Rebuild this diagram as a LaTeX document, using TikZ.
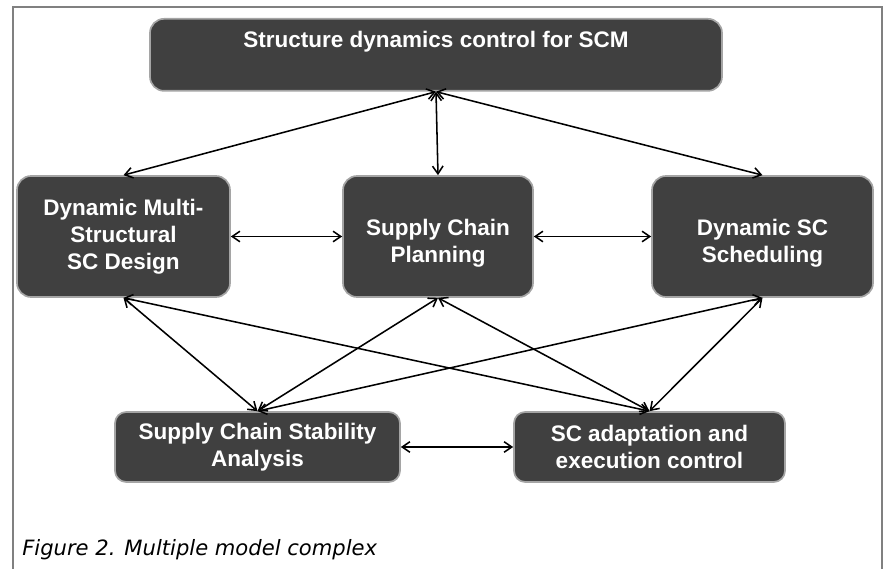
\documentclass[tikz,border=0pt]{standalone}
\usepackage{fontspec}
\setmainfont{Liberation Sans}
\newfontfamily\capfont{DejaVu Sans}
\usetikzlibrary{arrows.meta}
\definecolor{boxgray}{RGB}{64,64,64}
\definecolor{rimgray}{RGB}{165,165,165}
\definecolor{framegray}{RGB}{128,128,128}
\def\px{0.025cm}

\begin{document}
\begin{tikzpicture}[x=\px, y=-\px,
    block/.style={fill=boxgray, draw=rimgray, line width=1.2pt, rounded corners=10pt,
      text=white, font=\bfseries\fontsize{16}{19.2}\selectfont, align=center, inner sep=0pt},
    link/.style={{Straight Barb[length=5.5pt,width=7.5pt]}-{Straight Barb[length=5.5pt,width=7.5pt]},
      line width=1.1pt}]
    \useasboundingbox (0,0) rectangle (884,569);
    % open frame round the figure
    \draw[framegray, line width=0.8pt] (13,569) -- (13,7) -- (882,7) -- (882,569);
    % the six models
    \node[block, anchor=north, minimum width=572*\px, text height=29*\px, text depth=43*\px]
      (ctrl) at (436,18) {Structure dynamics control for SCM};
    \node[block, minimum width=213*\px, minimum height=121*\px] (design) at (123.5,236.5)
      {Dynamic Multi-\\Structural\\SC Design};
    \node[block, minimum width=190*\px, minimum height=121*\px, text height=57*\px, text depth=5*\px]
      (plan) at (438,236.5) {Supply Chain\\Planning};
    \node[block, minimum width=221*\px, minimum height=121*\px, text height=57*\px, text depth=5*\px]
      (sched) at (762.5,236.5) {Dynamic SC\\Scheduling};
    \node[block, rounded corners=8pt, minimum width=285*\px, minimum height=70*\px]
      (stab) at (257.5,447) {Supply Chain Stability\\Analysis};
    \node[block, rounded corners=8pt, minimum width=271*\px, minimum height=70*\px]
      (adapt) at (649.5,447) {SC adaptation and\\execution control};
    % links
    \draw[link] (ctrl.south) -- (design.north);
    \draw[link] (ctrl.south) -- (plan.north);
    \draw[link] (ctrl.south) -- (sched.north);
    \draw[link] (design.east) -- (plan.west);
    \draw[link] (plan.east) -- (sched.west);
    \foreach \m in {design,plan,sched} {
      \draw[link] (\m.south) -- (stab.north);
      \draw[link] (\m.south) -- (adapt.north);
    }
    \draw[link] (stab.east) -- (adapt.west);
    % caption
    \node[anchor=base west, inner sep=0pt, font=\capfont\itshape\fontsize{15}{18}\selectfont]
      (caption) at (22,556) {Figure 2. Multiple model complex};
\end{tikzpicture}
\end{document}
